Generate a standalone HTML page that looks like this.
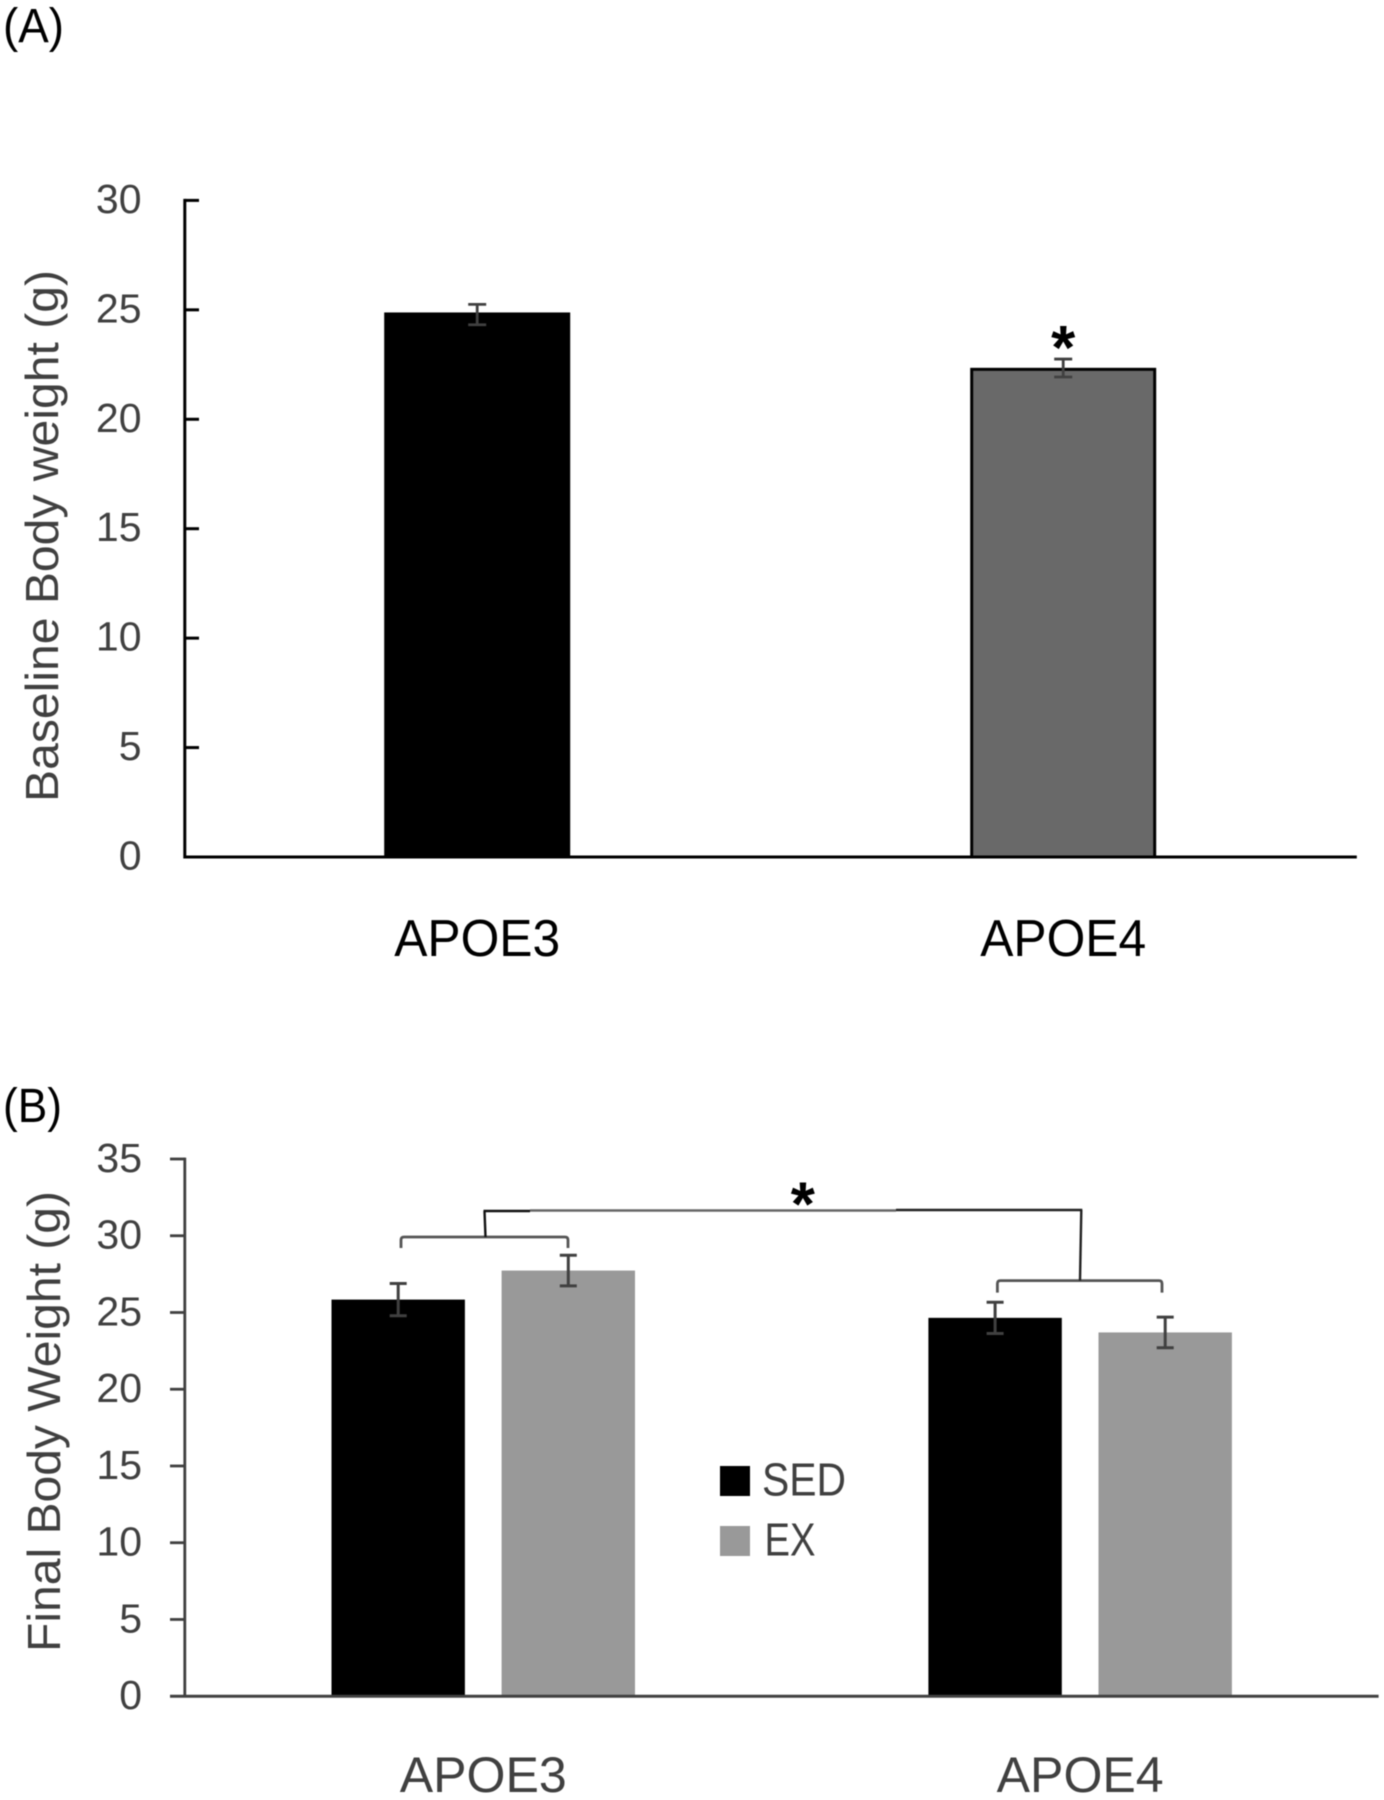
<!DOCTYPE html>
<html lang="en">
<head>
<meta charset="utf-8">
<title>Body weight charts</title>
<style>
html,body{margin:0;padding:0;background:#fff;width:1384px;height:1800px;overflow:hidden}
svg{display:block;font-family:"Liberation Sans",sans-serif;filter:blur(0.4px)}
</style>
</head>
<body>
<svg id="fig" width="1384" height="1800" viewBox="0 0 1384 1800" xmlns="http://www.w3.org/2000/svg">
  <rect width="1384" height="1800" fill="#fff"/>
  <text x="3" y="42" font-size="48" fill="#000" textLength="61" lengthAdjust="spacingAndGlyphs">(A)</text>
  <text x="3" y="1122" font-size="48" fill="#000" textLength="59" lengthAdjust="spacingAndGlyphs">(B)</text>
  <text transform="translate(58,802) rotate(-90)" font-size="46" fill="#404040" textLength="532" lengthAdjust="spacingAndGlyphs">Baseline Body weight (g)</text>
  <text transform="translate(60,1652) rotate(-90)" font-size="46" fill="#404040" textLength="461" lengthAdjust="spacingAndGlyphs">Final Body Weight (g)</text>
  <g id="panelA"></g>
  <g id="panelB"></g>
  <g>
    <g>
      <rect x="720" y="1466" width="30" height="30" fill="#000"/>
      <text x="762" y="1495.5" font-size="46" fill="#404040" textLength="84" lengthAdjust="spacingAndGlyphs">SED</text>
    </g>
    <g>
      <rect x="720" y="1526" width="30" height="30" fill="#999999"/>
      <text x="764.5" y="1555.7" font-size="46" fill="#404040" textLength="51" lengthAdjust="spacingAndGlyphs">EX</text>
    </g>
  </g>
</svg>
<script>
// Panel A data
const categoriesA = ['APOE3', 'APOE4'];
const valuesA = [24.88, 22.35];
const errorsUpA = [0.37, 0.4];
const errorsDownA = [0.56, 0.42];
const ticksA = [0, 5, 10, 15, 20, 25, 30];
// Panel B data
const categoriesB = ['APOE3', 'APOE4'];
const sedValuesB = [25.84, 24.65];
const exValuesB = [27.73, 23.7];
const sedErrorsB = [1.05, 1.02];
const exErrorsB = [1.0, 1.0];
const ticksB = [0, 5, 10, 15, 20, 25, 30, 35];

const NS = 'http://www.w3.org/2000/svg';
function mk(parent, tag, name, props, txt) {
  const el = document.createElementNS(NS, tag);
  
  
  for (const k in props) el.setAttribute(k, props[k]);
  if (txt !== undefined) el.textContent = txt;
  parent.appendChild(el);
  return el;
}
function line(p, name, x1, y1, x2, y2, color, w) {
  return mk(p, 'line', name, {x1, y1, x2, y2, stroke: color, 'stroke-width': w});
}
function errBar(p, name, x, yTop, yBot, half, w) {
  const g = mk(p, 'g', name, {});
  line(g, name + '-stem', x, yTop, x, yBot, '#404040', w);
  line(g, name + '-cap-top', x - half, yTop, x + half, yTop, '#404040', w);
  line(g, name + '-cap-bottom', x - half, yBot, x + half, yBot, '#404040', w);
}

/* ---------- Panel A ---------- */
(function () {
  const p = document.getElementById('panelA');
  const x0 = 184.8, x1 = 1356.8, y0 = 857, yMax = 200.4, vMax = 30, barW = 186;
  const y = v => y0 - (v / vMax) * (y0 - yMax);
  const xc = i => x0 + (x1 - x0) * (i + 0.5) / categoriesA.length - 0.6;
  const fills = ['#000000', '#696969'];

  valuesA.forEach((v, i) => {
    const inset = i === 0 ? 0 : 1.5;
    mk(p, 'rect', 'bar-' + categoriesA[i].toLowerCase(), {
      x: xc(i) - barW / 2 + inset, y: y(v) + inset, width: barW - 2 * inset, height: y0 - y(v) - inset,
      fill: fills[i], stroke: '#000', 'stroke-width': i === 0 ? 0 : 3
    });
    errBar(p, 'error-bar-' + categoriesA[i].toLowerCase(), xc(i), y(v + errorsUpA[i]), y(v - errorsDownA[i]), 9, 2.8);
    mk(p, 'text', 'x-label-' + categoriesA[i].toLowerCase(), {
      x: xc(i), y: 956, 'text-anchor': 'middle', 'font-size': 52, fill: '#000',
      textLength: 166, lengthAdjust: 'spacingAndGlyphs'
    }, categoriesA[i]);
  });
  // significance marker above APOE4
  mk(p, 'text', 'significance-asterisk-a', {
    x: xc(1), y: y(valuesA[1] + errorsUpA[1]) + 10, 'text-anchor': 'middle', 'font-size': 62, 'font-weight': 'bold', fill: '#000'
  }, '*');

  line(p, 'y-axis-line', x0, yMax - 1.5, x0, y0 + 1.5, '#000', 3);
  line(p, 'x-axis-line', x0, y0, x1, y0, '#000', 3);
  ticksA.forEach(t => {
    if (t > 0) line(p, 'y-tick-' + t, x0, y(t), 199, y(t), '#000', 3);
    mk(p, 'text', 'y-tick-label-' + t, {
      x: 141.5, y: y(t) + 12.5, 'text-anchor': 'end', 'font-size': 41, fill: '#404040'
    }, String(t));
  });
})();

/* ---------- Panel B ---------- */
(function () {
  const p = document.getElementById('panelB');
  const x0 = 184.8, x1 = 1378.6, y0 = 1696.2, yMax = 1159, vMax = 35, barW = 133.4, gap = 36.7;
  const y = v => y0 - (v / vMax) * (y0 - yMax);
  const xc = i => x0 + (x1 - x0) * (i + 0.5) / categoriesB.length;
  const sedX = i => xc(i) - gap / 2 - barW / 2;
  const exX = i => xc(i) + gap / 2 + barW / 2;

  categoriesB.forEach((c, i) => {
    const n = c.toLowerCase();
    mk(p, 'rect', 'bar-sed-' + n, {x: sedX(i) - barW / 2, y: y(sedValuesB[i]), width: barW, height: y0 - y(sedValuesB[i]), fill: '#000'});
    mk(p, 'rect', 'bar-ex-' + n, {x: exX(i) - barW / 2, y: y(exValuesB[i]), width: barW, height: y0 - y(exValuesB[i]), fill: '#999999'});
    errBar(p, 'error-bar-sed-' + n, sedX(i), y(sedValuesB[i] + sedErrorsB[i]), y(sedValuesB[i] - sedErrorsB[i]), 8.5, 3);
    errBar(p, 'error-bar-ex-' + n, exX(i), y(exValuesB[i] + exErrorsB[i]), y(exValuesB[i] - exErrorsB[i]), 8.5, 3);
    mk(p, 'text', 'x-label-b-' + n, {
      x: xc(i), y: 1792, 'text-anchor': 'middle', 'font-size': 50, fill: '#404040',
      textLength: 167, lengthAdjust: 'spacingAndGlyphs'
    }, c);
  });

  line(p, 'y-axis-line-b', x0, yMax - 1.4, x0, y0, '#404040', 2.8);
  line(p, 'x-axis-line-b', 170, y0, x1, y0, '#404040', 3);
  ticksB.forEach(t => {
    if (t > 0) line(p, 'y-tick-b-' + t, 170, y(t), x0, y(t), '#404040', 2.8);
    mk(p, 'text', 'y-tick-label-b-' + t, {
      x: 142, y: y(t) + 13, 'text-anchor': 'end', 'font-size': 41, fill: '#404040'
    }, String(t));
  });

  // comparison brackets
  const bracket = (name, xa, xb, yv, drop) => mk(p, 'path', name, {
    d: `M${xa} ${yv + drop} V${yv + 3} Q${xa} ${yv} ${xa + 3} ${yv} H${xb - 3} Q${xb} ${yv} ${xb} ${yv + 3} V${yv + drop}`,
    fill: 'none', stroke: '#555', 'stroke-width': 2.8
  });
  bracket('bracket-apoe3', 401, 568, 1237, 11);
  bracket('bracket-apoe4', 997.4, 1162, 1280.6, 12);
  line(p, 'bracket-stem-apoe3', 484.5, 1211, 485.5, 1237, '#111', 2.4);
  line(p, 'bracket-stem-apoe4', 1081.3, 1210, 1080, 1280.6, '#222', 2.4);
  line(p, 'bracket-top-left', 483.5, 1211, 530, 1211, '#111', 2.4);
  line(p, 'bracket-top-middle', 530, 1210.5, 896, 1210.5, '#666', 2.6);
  line(p, 'bracket-top-right', 896, 1210, 1082.3, 1210, '#222', 2.4);
  mk(p, 'text', 'significance-asterisk-b', {
    x: 802.8, y: 1225.5, 'text-anchor': 'middle', 'font-size': 62, 'font-weight': 'bold', fill: '#000'
  }, '*');
})();
</script>
</body>
</html>
